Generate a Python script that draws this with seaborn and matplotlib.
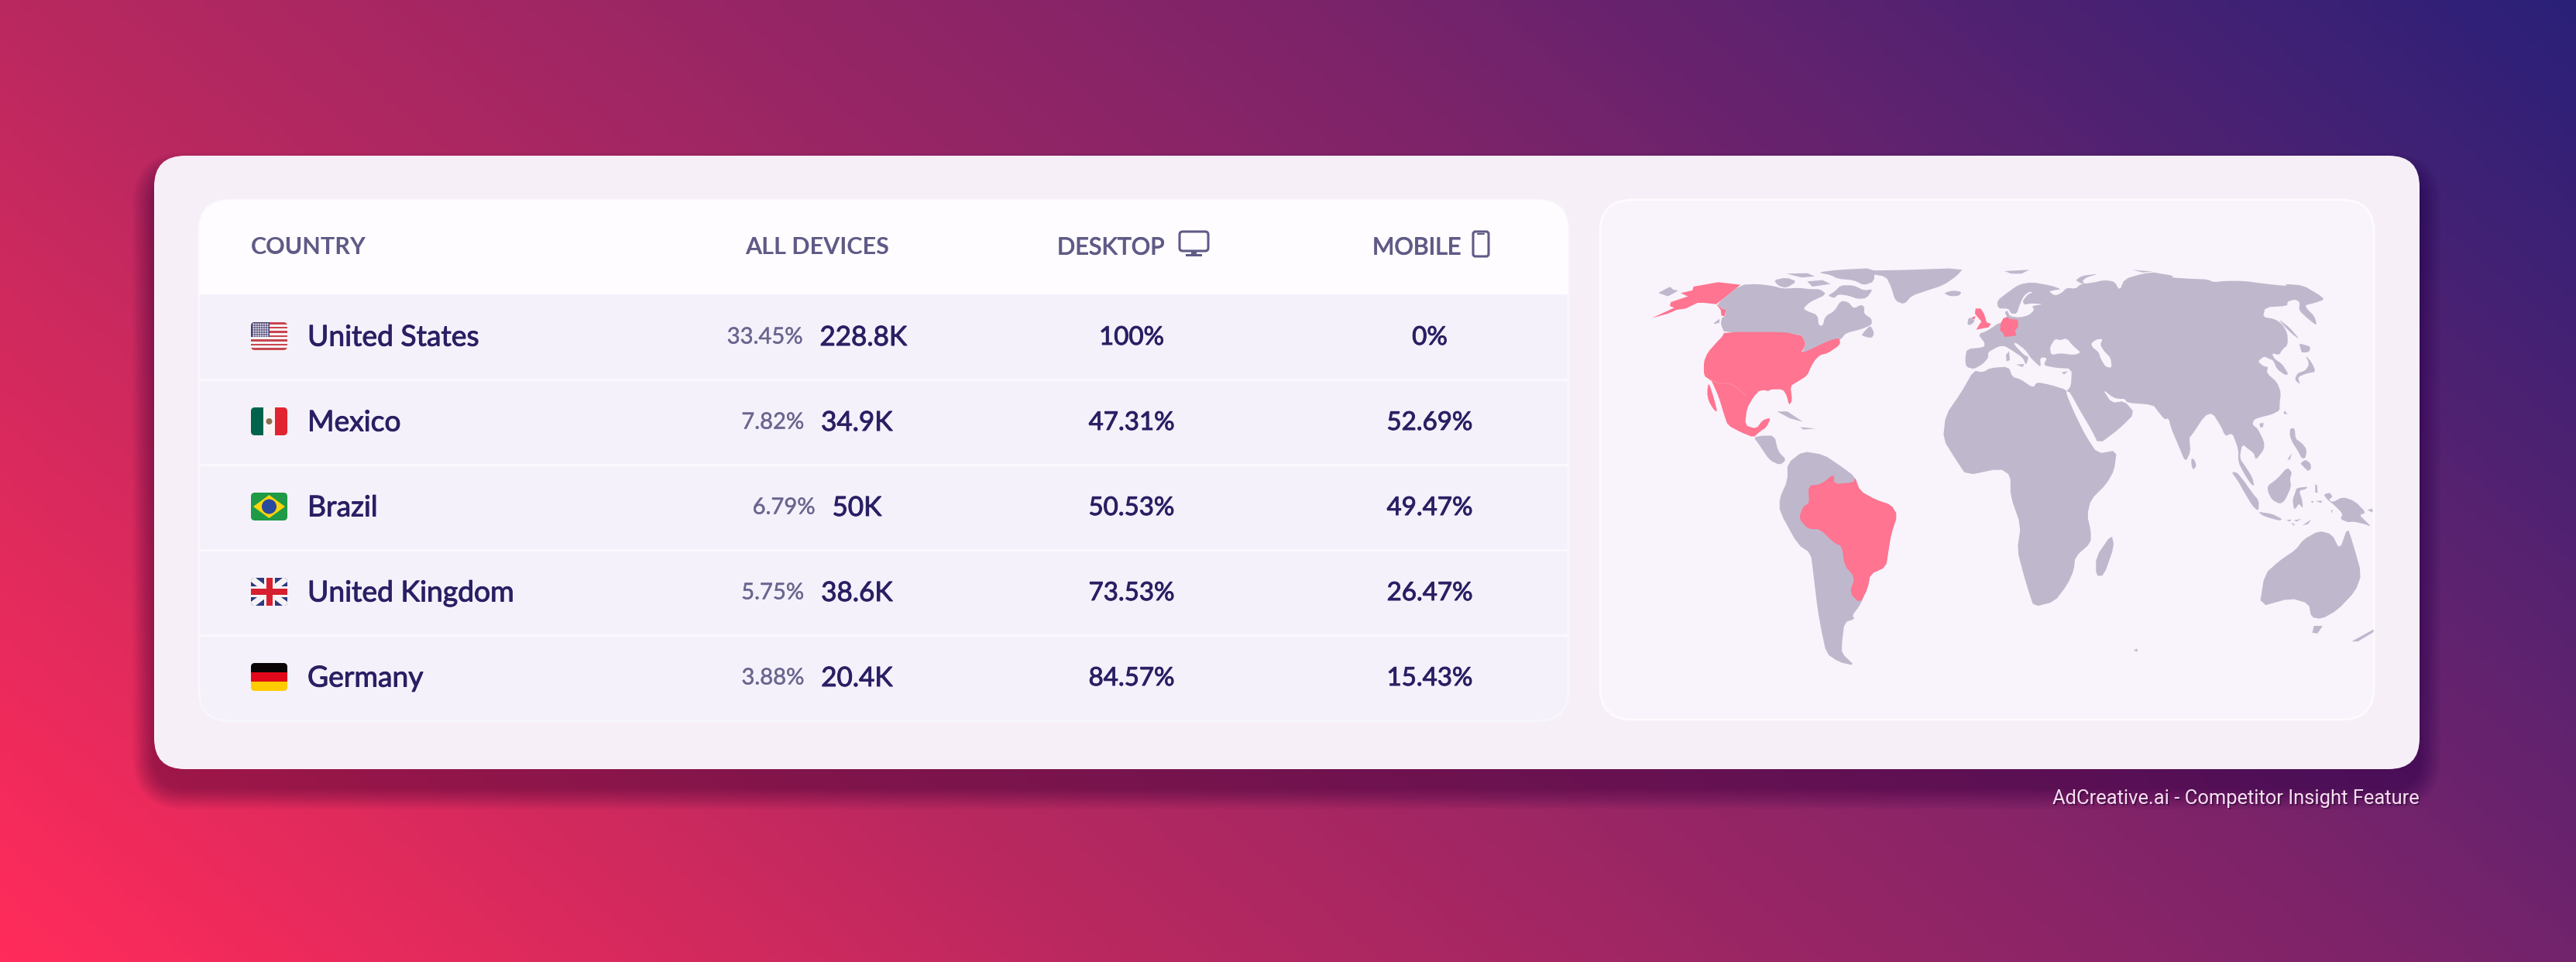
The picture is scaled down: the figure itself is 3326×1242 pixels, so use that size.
import numpy as np
import pandas as pd
import matplotlib
matplotlib.use("Agg")
import matplotlib.pyplot as plt
import matplotlib.patheffects as pe
import seaborn as sns
from matplotlib.colors import LinearSegmentedColormap
from matplotlib.patches import FancyBboxPatch, Rectangle, Circle, Polygon

# ---------------- table data ----------------
COUNTRIES = ["United States", "Mexico", "Brazil", "United Kingdom", "Germany"]
SHARE = ["33.45%", "7.82%", "6.79%", "5.75%", "3.88%"]
TOTAL = ["228.8K", "34.9K", "50K", "38.6K", "20.4K"]
DESKTOP = ["100%", "47.31%", "50.53%", "73.53%", "84.57%"]
MOBILE = ["0%", "52.69%", "49.47%", "26.47%", "15.43%"]
HEADERS = ["COUNTRY", "ALL DEVICES", "DESKTOP", "MOBILE"]
CAPTION = "AdCreative.ai - Competitor Insight Feature"

# ---------------- map outlines, traced in four reference windows ----------------
CHUKOTKA_N = [(62,145),(90,130),(110,120),(120,132),(142,135),(115,150),(100,158),(80,150)]
ALASKA_N = [(382,113),(295,103),(200,120),(195,135),(150,145),(178,158),(112,180),(108,195),(125,202),(38,242),(100,225),(135,210),(170,205),(215,183),(240,183),(288,188),(310,205),(325,210),(320,235),(308,232),(305,210),(288,188)]
CANADA_N = [(382,113),(450,110),(510,118),(545,128),(610,125),(650,130),(690,130),(715,150),(650,180),(625,205),(640,215),(680,230),(685,270),(700,272),(710,235),(745,215),(770,175),(800,180),(820,205),(850,190),(862,200),(860,225),(890,245),(890,268),(850,285),(790,300),(770,325),(722,345),(680,365),(650,380),(615,385),(635,345),(620,310),(590,305),(555,300),(320,300),(305,265),(310,240),(322,235),(325,210),(310,205),(288,188)]
BAFFIN_N = [(720,155),(745,140),(770,115),(820,115),(860,135),(895,130),(870,165),(835,168),(800,155),(760,150),(745,165)]
ARCTIC1_N = [(510,95),(560,85),(600,100),(560,125),(530,118)]
ARCTIC2_N = [(560,70),(640,68),(670,80),(620,85)]
ARCTIC3_N = [(640,100),(700,95),(730,110),(660,120)]
ARCTIC4_N = [(680,65),(760,55),(900,48),(900,100),(860,115),(820,95),(760,90),(730,75)]
NEWFOUNDLAND_N = [(850,310),(860,295),(885,270),(900,300),(890,320)]
VANCOUVER_N = [(278,262),(300,245),(300,260),(282,265)]
USA_N = [(320,296),(555,296),(590,305),(620,310),(635,345),(615,378),(650,365),(722,330),(765,318),(768,345),(720,378),(690,385),(670,405),(655,430),(640,465),(600,490),(575,505),(582,560),(570,580),(560,540),(545,518),(500,518),(490,525),(470,520),(440,530),(425,545),(400,540),(385,525),(365,510),(340,495),(300,495),(262,480),(240,465),(240,410),(255,375),(290,335),(310,315)]
BORDER_N = [(262,480),(300,495),(340,495),(365,510),(385,525),(400,540)]
MEXICO_W = [(250,530),(290,540),(320,560),(345,572),(336,585),(322,620),(318,670),(340,680),(352,655),(368,648),(360,675),(345,690),(335,705),(310,690),(285,670),(278,640),(268,590),(258,555)]
BAJA_W = [(248,545),(258,590),(265,632),(258,625),(248,600),(245,575)]
CENTRAL_W = [(335,705),(350,700),(375,700),(382,745),(398,770),(385,785),(365,770),(345,725)]
CUBA_W = [(380,630),(400,630),(430,660),(405,650)]
HISPANIOLA_W = [(425,675),(455,680),(430,682)]
SOUTH_AMERICA_W = [(400,780),(430,745),(470,755),(500,785),(530,818),(540,860),(570,885),(600,900),(612,930),(600,985),(595,1030),(590,1080),(560,1100),(555,1140),(540,1190),(525,1220),(530,1230),(510,1240),(505,1300),(505,1330),(530,1365),(500,1355),(475,1330),(465,1260),(458,1200),(450,1100),(445,1040),(420,1015),(385,920),(385,880),(400,830)]
BRAZIL_W = [(440,845),(465,840),(490,810),(490,840),(528,835),(530,820),(540,860),(570,885),(600,900),(612,930),(600,985),(595,1030),(590,1080),(560,1100),(555,1140),(540,1185),(520,1155),(530,1110),(510,1075),(505,1020),(490,1010),(462,970),(440,970),(422,940),(430,905),(442,895)]
GREENLAND_W = [(520,222),(600,222),(740,215),(725,240),(700,265),(670,280),(640,295),(625,320),(608,310),(600,270),(590,240),(560,232)]
UK_E = [(212,205),(232,205),(245,225),(255,258),(272,265),(262,278),(225,285),(215,287),(225,270),(235,255),(222,240),(210,225)]
NIRELAND_E = [(195,240),(212,235),(208,247)]
IRELAND_E = [(185,240),(205,245),(208,255),(195,268),(180,268)]
GERMANY_E = [(320,243),(335,238),(345,245),(375,248),(378,275),(365,290),(370,310),(325,315),(318,298),(307,290),(310,262)]
ICELAND_E = [(88,145),(125,135),(158,140),(150,155),(115,158)]
SVALBARD_E = [(325,60),(420,55),(390,70),(350,70)]
FRANZ_E = [(820,55),(900,62),(860,65)]
NOVAYA_E = [(600,95),(625,78),(690,70),(640,85),(625,100),(640,112),(615,105)]
SICILY_E = [(370,422),(400,420),(395,432)]
SARDINIA_E = [(330,385),(342,370),(345,405),(332,410)]
CYPRUS_E = [(545,452),(570,448),(555,460)]
EURASIA_E1 = [(178,362),(245,355),(248,338),(222,305),(260,290),(300,262),(310,262),(320,243),(335,238),(325,220),(335,212),(345,235),(385,240),(420,230),(440,210),(430,195),(475,188),(430,185),(400,190),(395,175),(415,150),(435,142),(420,140),(400,155),(385,185),(372,225),(350,225),(340,205),(300,205),(295,175),(340,140),(380,112),(430,103),(500,115),(545,130),(510,135),(497,140),(520,155),(545,145),(565,125),(600,128),(620,110),(665,105),(710,95),(750,100),(770,135),(790,90),(860,70),(900,65)]
EURASIA_A = [(0,65),(80,78),(70,85),(150,90),(210,92),(235,103),(280,98),(350,98),(440,110),(520,118),(510,110),(580,115),(640,150),(665,170),(620,185),(590,192),(595,205),(625,235),(635,272),(600,245),(565,212),(568,180),(550,170),(520,178),(520,195),(435,200),(425,238),(470,245),(500,265),(520,300),(522,345),(500,365),(488,385),(460,378),(470,400),(500,420),(525,460),(510,462),(480,440),(465,405),(450,400),(430,390),(405,410),(430,430),(445,430),(440,455),(480,490),(495,530),(490,575),(490,600)]
EURASIA_S = [(460,15),(420,25),(390,35),(385,55),(405,70),(430,120),(430,150),(398,192),(390,165),(370,150),(345,130),(335,185),(360,220),(385,260),(392,295),(375,280),(350,240),(330,200),(330,150),(310,95),(300,90),(280,100),(262,60),(230,10),(200,20),(150,95),(140,105),(145,160),(125,200),(100,140),(70,70),(60,30),(45,35),(20,5)]
EURASIA_E2 = [(900,578),(800,570),(790,555),(770,555),(745,550),(705,518)]
EURASIA_W = [(1025,605),(1050,600),(1070,635),(1040,680),(1000,725),(985,680),(965,630),(945,575)]
EURASIA_E3 = [(565,525),(582,505),(585,438),(525,435),(475,425),(490,395),(462,395),(465,432),(445,415),(425,395),(405,365),(365,335),(362,345),(400,385),(418,392),(408,425),(395,395),(350,365),(325,350),(300,352),(260,375),(262,395),(240,420),(205,440),(175,430),(172,400)]
BLACK_SEA_E = [(500,355),(520,322),(540,328),(565,320),(590,350),(620,375),(595,385),(540,378),(505,385)]
CASPIAN_E = [(660,340),(680,325),(705,322),(695,345),(710,370),(735,395),(740,435),(715,430),(695,395),(690,375),(665,355)]
AFRICA_E = [(205,445),(240,452),(270,435),(340,430),(355,470),(385,478),(435,512),(450,490),(500,500),(565,520)]
AFRICA_W = [(938,580),(955,640),(975,700),(998,752),(1035,742),(1030,800),(1015,840),(985,885),(978,930),(985,975),(985,1010),(955,1050),(952,1090),(940,1130),(915,1180),(875,1195),(865,1150),(855,1100),(843,1030),(850,960),(830,875),(830,815),(810,795),(745,815),(725,770),(700,710),(705,640),(735,575)]
MADAGASCAR_W = [(1025,985),(1030,1020),(1010,1105),(995,1105),(995,1050)]
SAKHALIN_A = [(485,245),(530,280),(568,325),(540,305),(510,275)]
HOKKAIDO_A = [(565,340),(610,352),(605,372),(590,375),(575,375),(570,355)]
HONSHU_A = [(590,385),(615,415),(630,450),(600,455),(560,470),(570,500),(548,480),(560,455),(590,445),(605,420)]
TAIWAN_S = [(510,0),(520,15),(505,12)]
HAINAN_S = [(412,50),(428,48),(425,65),(415,65)]
SRI_LANKA_S = [(148,185),(160,190),(168,215),(155,230),(148,210)]
SUMATRA_S = [(303,238),(325,240),(350,270),(385,320),(410,350),(408,390),(385,370),(355,320),(330,275)]
JAVA_S = [(405,392),(460,400),(500,420),(490,427),(430,410)]
BORNEO_S = [(443,292),(480,265),(520,220),(538,240),(530,265),(535,295),(510,350),(490,362),(460,345),(445,315)]
SULAWESI_S = [(555,300),(600,295),(590,305),(565,310),(578,350),(580,380),(565,360),(552,380),(545,380),(540,345),(550,320)]
LUZON_S = [(530,70),(548,68),(552,110),(575,125),(595,150),(590,185),(575,185),(560,155),(540,125),(530,100)]
MINDANAO_S = [(570,205),(590,190),(610,205),(612,225),(600,235),(580,215)]
PALAWAN_S = [(520,190),(538,165),(530,190)]
MOLUCCAS_S = [(628,285),(635,290),(637,318),(628,318)]
GUINEA_S = [(660,325),(685,318),(695,335),(680,345),(695,355),(735,335),(780,350),(825,395),(800,405),(815,420),(845,450),(820,440),(775,430),(755,433),(725,420),(735,400),(700,365),(675,345)]
TIMOR_S = [(578,445),(612,422),(600,440)]
LESSER1_S = [(515,425),(535,422),(530,430)]
LESSER2_S = [(545,425),(575,420),(555,430)]
LESSER3_S = [(535,435),(548,440),(545,447)]
SERAM_S = [(630,350),(655,350),(650,358)]
BURU_S = [(610,352),(622,350),(618,358)]
ARU_S = [(690,385),(696,385),(690,400)]
BRITAIN_S = [(830,385),(850,380),(850,395)]
AUSTRALIA_W = [(1310,1195),(1320,1100),(1350,1060),(1380,1030),(1395,1000),(1425,975),(1450,985),(1465,1030),(1480,965),(1490,1010),(1507,1100),(1495,1150),(1460,1205),(1430,1230),(1410,1225),(1405,1185),(1370,1170)]
TASMANIA_W = [(1415,1250),(1432,1250),(1422,1272),(1412,1270)]
ZEALAND_W = [(1488,1295),(1530,1260),(1530,1268),(1500,1295)]
KERGUELEN_W = [(1067,1320),(1075,1316),(1074,1325)]

# ---------------- style ----------------
sns.set_theme(style="white")
plt.rcParams["font.family"] = ["Lato", "DejaVu Sans"]
LAND, HILITE = sns.color_palette(["#bfb8cd", "#ff7490"])
INK, INK_SOFT, INK_HEAD = "#2a1f63", "#6a668f", "#5f5a86"
CARD, MAPCARD, ROW, HEAD = "#f7eff7", "#f9f3fc", "#f4f1fb", "#fefcfe"

W, H = 3326, 1242
fig = plt.figure(figsize=(W / 100, H / 100), dpi=100)

# ---------------- gradient background, through seaborn's heatmap ----------------
bg = fig.add_axes([0, 0, 1, 1])
gx, gy = np.meshgrid(np.linspace(0, 1, 416), np.linspace(0, 1, 156))
grad = pd.DataFrame(0.7 * gx + 0.3 * (1 - gy))
cmap = LinearSegmentedColormap.from_list("bg", [(0, "#ff2b5a"), (0.3, "#b9285f"), (0.65, "#7d2369"), (1, "#2a2078")])
sns.heatmap(grad, ax=bg, cmap=cmap, vmin=0, vmax=1, cbar=False, xticklabels=False, yticklabels=False)

ax = fig.add_axes([0, 0, 1, 1], facecolor="none")
ax.set_xlim(0, W)
ax.set_ylim(H, 0)
ax.axis("off")


def card(x0, y0, x1, y1, r, z=1, **kw):
    p = FancyBboxPatch((x0 + r, y0 + r), x1 - x0 - 2 * r, y1 - y0 - 2 * r,
                       boxstyle=f"round,pad={r},rounding_size={r}", zorder=z, **kw)
    ax.add_patch(p)
    return p


# shadow + outer card
for i in range(20):
    grow = 28 - i * 1.4
    card(199 - grow, 201 - grow + 24, 3124 + grow, 993 + grow + 24, 40 + grow, z=1,
         fc="#1c0a3c", ec="none", alpha=0.018)
card(199, 201, 3124, 993, 40, z=2, fc=CARD, ec="none")

# table card
tbl = card(257, 258, 2025, 931, 40, z=3, fc=ROW, ec="#f8f6fd", lw=2)
head = Rectangle((257, 258), 1768, 122, fc=HEAD, ec="none", zorder=3.1)
ax.add_patch(head)
head.set_clip_path(tbl)
ROW_TOPS = [380, 490, 600, 710, 820, 931]
for yy in ROW_TOPS[1:-1]:
    ax.plot([258, 2024], [yy, yy], color="#fbf9fe", lw=2, zorder=3.2, solid_capstyle="butt")

# map card
card(2066, 258, 3065, 929, 42, z=3, fc=MAPCARD, ec="#fdfbfe", lw=2)

# ---------------- map ----------------
def frame(x0, y0, sx, sy):
    return lambda pts: [(x0 + a / sx, y0 + b / sy) for a, b in pts]


N = frame(2120, 330, 3, 3)
E = frame(2480, 330, 3, 3)
A = frame(2780, 330, 3, 3)
S = frame(2780, 530, 3, 3)
Wd = frame(2040, 250, 1568 / 1050, 1568 / 700)


def rounded(pts):
    """one corner-cutting pass, so that traced outlines read as coasts"""
    p = np.asarray(pts, float)
    q = np.roll(p, -1, axis=0)
    return np.column_stack([0.8 * p + 0.2 * q, 0.2 * p + 0.8 * q]).reshape(-1, 2).tolist()


def land(pts, color=LAND, z=4, smooth=True):
    if smooth and len(pts) > 4:
        pts = rounded(pts)
    xs, ys = zip(*pts)
    ax.fill(xs, ys, color=color, lw=0, zorder=z)


for shape in [CHUKOTKA_N, CANADA_N, BAFFIN_N, ARCTIC1_N, ARCTIC2_N, ARCTIC3_N, ARCTIC4_N, NEWFOUNDLAND_N, VANCOUVER_N]:
    land(N(shape))
for shape in [CENTRAL_W, CUBA_W, HISPANIOLA_W, SOUTH_AMERICA_W, GREENLAND_W, MADAGASCAR_W, AUSTRALIA_W, TASMANIA_W, ZEALAND_W, KERGUELEN_W]:
    land(Wd(shape))
for shape in [IRELAND_E, ICELAND_E, SVALBARD_E, FRANZ_E, NOVAYA_E, SICILY_E, SARDINIA_E, CYPRUS_E]:
    land(E(shape))
for shape in [SAKHALIN_A, HOKKAIDO_A, HONSHU_A]:
    land(A(shape))
for shape in [TAIWAN_S, HAINAN_S, SRI_LANKA_S, SUMATRA_S, JAVA_S, BORNEO_S, SULAWESI_S, LUZON_S, MINDANAO_S, PALAWAN_S, MOLUCCAS_S, GUINEA_S, TIMOR_S, LESSER1_S, LESSER2_S, LESSER3_S, SERAM_S, BURU_S, ARU_S, BRITAIN_S]:
    land(S(shape))
land(E(EURASIA_E1) + A(EURASIA_A) + S(EURASIA_S) + E(EURASIA_E2) + Wd(EURASIA_W) + E(EURASIA_E3))
land(E(AFRICA_E) + Wd(AFRICA_W))
land(E(BLACK_SEA_E), MAPCARD, 4.1)
land(E(CASPIAN_E), MAPCARD, 4.1)
land(N(ALASKA_N), HILITE, 5, smooth=False)
land(N(USA_N), HILITE, 5)
land(Wd(MEXICO_W), HILITE, 5)
land(Wd(BAJA_W), HILITE, 5)
land(Wd(BRAZIL_W), HILITE, 5)
land(E(UK_E), HILITE, 5, smooth=False)
land(E(NIRELAND_E), HILITE, 5)
land(E(GERMANY_E), HILITE, 5, smooth=False)
bx, by = zip(*N(BORDER_N))
ax.plot(bx, by, color="#ff8ba3", lw=0.8, zorder=5.1)

# ---------------- text ----------------
ROW_Y = [433, 543, 653, 763, 873]
FS_NAME, FS_NUM, FS_TOTAL, FS_SHARE, FS_HEAD = 26.8, 23.8, 25.2, 21, 22
renderer = fig.canvas.get_renderer()
COL_ALL, COL_DESK, COL_MOB = 1055, 1461, 1846


def put(x, y, s, size, color, weight=400, ha="left", z=6, stroke=0.7, **kw):
    kw.setdefault("family", ["Lato", "DejaVu Sans"])
    t = ax.text(x, y, s, fontsize=size, color=color, ha=ha, va="center_baseline", zorder=z, fontweight=weight, **kw)
    if stroke:
        t.set_path_effects([pe.withStroke(linewidth=stroke, foreground=color)])
    return t


put(324, 317, HEADERS[0], FS_HEAD, INK_HEAD, 700, stroke=0)
put(COL_ALL, 317, HEADERS[1], FS_HEAD, INK_HEAD, 700, ha="center", stroke=0)
put(1365, 317, HEADERS[2], FS_HEAD, INK_HEAD)
put(1772, 317, HEADERS[3], FS_HEAD, INK_HEAD)

table = pd.DataFrame({"country": COUNTRIES, "share": SHARE, "total": TOTAL, "desktop": DESKTOP, "mobile": MOBILE, "y": ROW_Y})
for r in table.itertuples():
    put(397, r.y, r.country, FS_NAME, INK)
    a = put(0, r.y, r.share, FS_SHARE, INK_SOFT, stroke=0.3)
    b = put(0, r.y, r.total, FS_TOTAL, INK)
    wa = a.get_window_extent(renderer).width
    wb = b.get_window_extent(renderer).width
    gap = 22
    left = COL_ALL - (wa + gap + wb) / 2
    a.set_x(left)
    b.set_x(left + wa + gap)
    put(COL_DESK, r.y, r.desktop, FS_NUM, INK, ha="center")
    put(COL_MOB, r.y, r.mobile, FS_NUM, INK, ha="center")

# caption with soft shadow
put(3126, 1030.5, CAPTION, 18.4, "#3a0c3f", ha="right", alpha=0.65, family=["Roboto", "DejaVu Sans"], stroke=0)
put(3124, 1028.5, CAPTION, 18.4, "#f6dff1", ha="right", z=7, family=["Roboto", "DejaVu Sans"], stroke=0)

# ---------------- header icons ----------------
card(1523, 299, 1560, 324, 4, z=6, fc="none", ec=INK_HEAD, lw=2.2)
ax.add_patch(Rectangle((1538, 324), 7, 5, fc=INK_HEAD, ec="none", zorder=6))
ax.add_patch(Rectangle((1531, 328), 21, 3, fc=INK_HEAD, ec="none", zorder=6))
card(1902, 299, 1922, 331, 3, z=6, fc="none", ec=INK_HEAD, lw=2.2)
ax.plot([1908, 1916], [302, 302], color=INK_HEAD, lw=1.5, zorder=6)

# ---------------- flags ----------------
FX0, FX1 = 324, 371
FH = 36


def flag_shapes(name, y0):
    y1 = y0 + FH
    out = []
    rect = lambda x, y, w, h, c: out.append(Rectangle((x, y), w, h, fc=c, ec="none"))
    fw = FX1 - FX0
    if name == "United States":
        for i in range(13):
            rect(FX0, y0 + i * FH / 13, fw, FH / 13 + 0.3, "#c8464f" if i % 2 == 0 else "#f7f3f5")
        rect(FX0, y0, fw * 0.5, FH * 7 / 13, "#45406f")
    elif name == "Mexico":
        rect(FX0, y0, fw / 3, FH, "#00634b")
        rect(FX0 + fw / 3, y0, fw / 3, FH, "#f8f5f4")
        rect(FX0 + 2 * fw / 3, y0, fw / 3, FH, "#e12530")
        out.append(Circle(((FX0 + FX1) / 2, y0 + FH / 2), 4, fc="#8c6f4e", ec="none"))
    elif name == "Brazil":
        rect(FX0, y0, fw, FH, "#1f9a46")
        out.append(Polygon([(FX0 + 3, y0 + FH / 2), ((FX0 + FX1) / 2, y0 + 3), (FX1 - 3, y0 + FH / 2), ((FX0 + FX1) / 2, y1 - 3)], fc="#fbd40c", ec="none"))
        out.append(Circle(((FX0 + FX1) / 2, y0 + FH / 2), 9.5, fc="#284a9f", ec="none"))
    elif name == "United Kingdom":
        rect(FX0, y0, fw, FH, "#2c3b7c")
        out.append(Polygon([(FX0, y0), (FX0 + 6, y0), (FX1, y1 - 5), (FX1, y1), (FX1 - 6, y1), (FX0, y0 + 5)], fc="#f6f3f6", ec="none"))
        out.append(Polygon([(FX1, y0), (FX1 - 6, y0), (FX0, y1 - 5), (FX0, y1), (FX0 + 6, y1), (FX1, y0 + 5)], fc="#f6f3f6", ec="none"))
        rect(FX0, y0 + FH / 2 - 7, fw, 14, "#f6f3f6")
        rect((FX0 + FX1) / 2 - 7, y0, 14, FH, "#f6f3f6")
        rect(FX0, y0 + FH / 2 - 4, fw, 8, "#d6202f")
        rect((FX0 + FX1) / 2 - 4, y0, 8, FH, "#d6202f")
    else:
        rect(FX0, y0, fw, FH / 3, "#0b0406")
        rect(FX0, y0 + FH / 3, fw, FH / 3, "#e2081b")
        rect(FX0, y0 + 2 * FH / 3, fw, FH / 3, "#ffcc00")
    return out


for name, yc in zip(COUNTRIES, ROW_Y):
    y0 = yc + 1 - FH / 2
    clip = card(FX0, y0, FX1, y0 + FH, 5, z=5, fc="none", ec="none")
    for s in flag_shapes(name, y0):
        s.set_zorder(6)
        ax.add_patch(s)
        s.set_clip_path(clip)
    if name == "United States":
        dx = FX0 + 2.5 + 3 * np.arange(7)
        dy = y0 + 2 + 3 * np.arange(6)
        gxx, gyy = np.meshgrid(dx, dy)
        sns.scatterplot(x=gxx.ravel(), y=gyy.ravel(), ax=ax, s=3, color="#e8e6f0", linewidth=0, zorder=7, legend=False)

ax.set_xlim(0, W)
ax.set_ylim(H, 0)
ax.axis("off")
sns.despine(ax=bg, left=True, bottom=True)
fig.savefig("out.png", dpi=100)
